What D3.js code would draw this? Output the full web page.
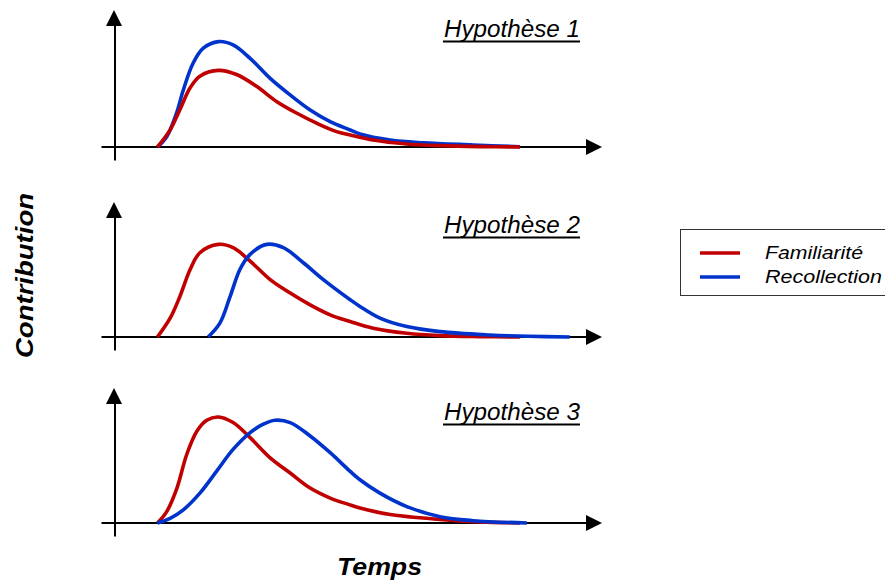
<!DOCTYPE html>
<html><head><meta charset="utf-8">
<script src="https://cdn.jsdelivr.net/npm/d3@7"></script>
<style>html,body{margin:0;padding:0;background:#fff;} svg{display:block;}</style>
</head><body>
<svg id="c" width="885" height="586"></svg>
<script>
// ---- data ----
const panelTitles = ["Hypothèse 1", "Hypothèse 2", "Hypothèse 3"];
const seriesNames = ["Familiarité", "Recollection"];
const xLabel = "Temps";
const yLabel = "Contribution";
// [time, contribution] pairs (arbitrary units: time 0..1000, contribution 0..100)
const fam1 = [[89,0],[115,12.5],[135,27.2],[156,43.2],[176,51.7],[214,55.9],[251,52.9],[292,44.3],[333,33.3],[374,24.8],[415,17.4],[456,11.2],[484,8.8],[531,5.1],[600,2.2],[668,1.0],[750,0.3],[832,0]];
const rec1 = [[89,0],[108,7.5],[128,24.6],[142,41.6],[162,61.1],[183,72.1],[214,76.9],[244,74.5],[279,64.7],[320,50.1],[361,38],[402,27],[443,18.5],[484,12.4],[504,9.5],[566,5.1],[633,3.1],[736,1.5],[832,0.2]];
const fam2 = [[89,0],[115,13.7],[135,29.6],[156,49.3],[176,61.5],[214,67.6],[244,65.2],[279,55.4],[320,41.9],[361,32.1],[402,23.5],[443,16.2],[484,11.3],[531,6.4],[600,2.7],[668,1.0],[750,0.3],[832,0]];
const rec2 = [[193,0],[217,10.1],[238,29.6],[258,49.3],[279,60.3],[313,67.6],[347,65.2],[388,54.2],[429,41.9],[484,27.2],[504,22.3],[545,13.8],[600,7.6],[668,3.9],[770,1.5],[850,0.5],[934,0]];
const fam3 = [[89,0],[108,8.3],[129,25.5],[149,50],[170,67.1],[190,75],[214,77.4],[244,73.3],[279,62.3],[320,47.6],[361,36.5],[402,25.5],[443,18.2],[484,13.2],[504,11.0],[566,6.2],[668,2.6],[750,0.8],[832,0]];
const rec3 = [[89,0],[115,3.4],[142,9.6],[176,21.8],[210,37.7],[244,53.7],[279,66],[306,72.1],[330,75],[361,73.3],[402,63.5],[443,51.3],[484,37.7],[504,31.6],[545,21.8],[600,12],[668,4.6],[736,1.7],[846,0]];

// ---- style / layout ----
const colors = ["#c00000", "#0033cc"];
const font = "'Liberation Sans', Arial, Helvetica, sans-serif";
const axisY = [147, 337, 523];
const tipY = [10, 202, 388];
const titleY = [37, 233, 420];
const panelData = [[fam1, rec1], [fam2, rec2], [fam3, rec3]];
const drawOrder = [[1, 0], [0, 1], [0, 1]];

const svg = d3.select("#c");
const x = d3.scaleLinear().domain([0, 1000]).range([114, 602]);

panelTitles.forEach((title, i) => {
  const g = svg.append("g");
  const y = d3.scaleLinear().domain([0, 100]).range([axisY[i], axisY[i] - 137]);

  // x axis line
  const xa = d3.scaleLinear().domain([x.invert(101), x.invert(590)]).range([101, 590]);
  g.append("g").attr("transform", `translate(0,${axisY[i] - 0.5})`)
    .call(d3.axisBottom(xa).tickValues([]).tickSizeOuter(0))
    .select(".domain").attr("stroke", "#000").attr("stroke-width", 2);
  g.append("path")
    .attr("d", `M${x(1000)},${axisY[i]}L${x(1000) - 16},${axisY[i] - 8}L${x(1000) - 16},${axisY[i] + 8}Z`)
    .attr("fill", "#000");

  // y axis line
  const ya = d3.scaleLinear().domain([0, 1]).range([axisY[i] + 13, tipY[i] + 12]);
  g.append("g").attr("transform", `translate(${x(0) + 0.5},0)`)
    .call(d3.axisLeft(ya).tickValues([]).tickSizeOuter(0))
    .select(".domain").attr("stroke", "#000").attr("stroke-width", 2);
  g.append("path")
    .attr("d", `M${x(0)},${tipY[i]}L${x(0) - 8},${tipY[i] + 16}L${x(0) + 8},${tipY[i] + 16}Z`)
    .attr("fill", "#000");

  // curves
  const line = d3.line().x(d => x(d[0])).y(d => Math.min(y(d[1]), axisY[i])).curve(d3.curveCatmullRom.alpha(0.5));
  drawOrder[i].forEach(s => {
    g.append("path").datum(panelData[i][s])
      .attr("d", line)
      .attr("fill", "none")
      .attr("stroke", colors[s])
      .attr("stroke-width", 3.6)
      .attr("stroke-linejoin", "round");
  });

  // title
  g.append("text")
    .attr("x", 580).attr("y", titleY[i])
    .attr("text-anchor", "end")
    .attr("font-family", font).attr("font-style", "italic")
    .attr("font-size", 23.5)
    .attr("textLength", 136).attr("lengthAdjust", "spacingAndGlyphs")
    .attr("fill", "#000")
    .text(title);
  g.append("line")
    .attr("x1", 443).attr("x2", 580)
    .attr("y1", titleY[i] + 4.5).attr("y2", titleY[i] + 4.5)
    .attr("stroke", "#000").attr("stroke-width", 1.8);
});

// axis labels
svg.append("text")
  .attr("transform", "translate(33,275.5) rotate(-90)")
  .attr("text-anchor", "middle")
  .attr("font-family", font).attr("font-style", "italic").attr("font-weight", "bold")
  .attr("font-size", 24)
  .attr("textLength", 165).attr("lengthAdjust", "spacingAndGlyphs")
  .text(yLabel);
svg.append("text")
  .attr("x", 379.5).attr("y", 575)
  .attr("text-anchor", "middle")
  .attr("font-family", font).attr("font-style", "italic").attr("font-weight", "bold")
  .attr("font-size", 24)
  .attr("textLength", 85).attr("lengthAdjust", "spacingAndGlyphs")
  .text(xLabel);

// legend
const lg = svg.append("g");
lg.append("rect").attr("x", 680.5).attr("y", 229.5).attr("width", 230).attr("height", 66)
  .attr("fill", "#fff").attr("stroke", "#333").attr("stroke-width", 1);
const legY = [253, 277];
const legLen = [98, 117];
seriesNames.forEach((n, i) => {
  lg.append("line").attr("x1", 700).attr("x2", 740).attr("y1", legY[i]).attr("y2", legY[i])
    .attr("stroke", colors[i]).attr("stroke-width", 3.5);
  lg.append("text").attr("x", 765).attr("y", legY[i] + 5.5)
    .attr("font-family", font).attr("font-style", "italic")
    .attr("font-size", 19)
    .attr("textLength", legLen[i]).attr("lengthAdjust", "spacingAndGlyphs")
    .text(n);
});
</script>
</body></html>
